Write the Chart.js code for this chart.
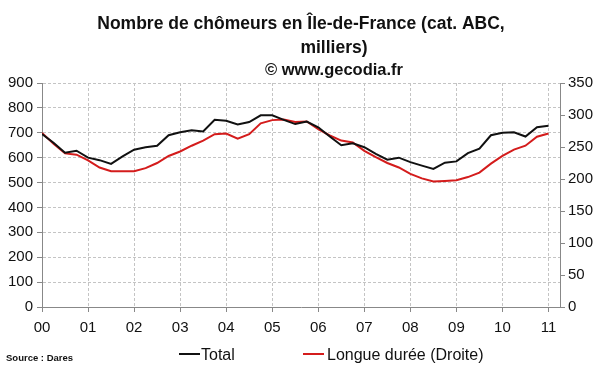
<!DOCTYPE html>
<html lang="fr">
<head>
<meta charset="UTF-8">
<title>Nombre de chômeurs en Île-de-France</title>
<style>
    html, body { margin: 0; padding: 0; background: #fff; }
    #wrap { width: 600px; height: 372px; position: relative; }
</style>
</head>
<body>
<div id="wrap"><canvas id="chart" width="600" height="372"></canvas></div>

<script src="https://cdn.jsdelivr.net/npm/chart.js@4.4.0/dist/chart.umd.min.js"></script>
<script>
// years on the x axis (2000 .. 2011)
const yearLabels = ["00", "01", "02", "03", "04", "05", "06", "07", "08", "09", "10", "11"];

// quarterly readings, 2000 T1 -> 2011 T1 (milliers)
const totalValues = [
    695, 660, 620, 628, 600, 590, 575, 605, 632, 642, 648, 690,
    702, 710, 705, 752, 748, 733, 743, 770, 770, 752, 735, 745,
    722, 685, 650, 658, 642, 615, 592, 600, 582, 568, 555, 580,
    585, 618, 636, 690, 700, 702, 685, 722, 728
];
const longueDureeValues = [
    272, 255, 240, 238, 229, 218, 212, 212, 212, 217, 225, 236,
    243, 252, 260, 270, 271, 263, 270, 287, 292, 293, 289, 290,
    278, 268, 260, 257, 244, 234, 225, 218, 208, 201, 196, 197,
    198, 203, 210, 224, 236, 246, 252, 266, 271
];

const seriesNames = ["Total", "Longue durée (Droite)"];
const seriesColors = ["#111111", "#d41c1c"];

const toPoints = vals => vals.map((v, i) => ({ x: i / 4, y: v }));

const FONT = "'Liberation Sans', Arial, sans-serif";

// title, source and legend are painted on the canvas
const decorations = {
    id: "decorations",
    afterDraw(chart) {
        const ctx = chart.ctx;
        ctx.save();
        ctx.fillStyle = "#111";
        ctx.textAlign = "center";
        ctx.textBaseline = "alphabetic";
        ctx.font = "bold 17.5px " + FONT;
        ctx.fillText("Nombre de chômeurs en Île-de-France (cat. ABC,", 301, 29);
        ctx.fillText("milliers)", 334, 53);
        ctx.font = "bold 16.5px " + FONT;
        ctx.fillText("© www.gecodia.fr", 334, 75);

        ctx.textAlign = "left";
        ctx.font = "bold 9.5px " + FONT;
        ctx.fillText("Source : Dares", 6, 361);

        // legend
        const items = [[179, 201], [303, 327]];
        ctx.font = "16px " + FONT;
        items.forEach(([x0, xt], k) => {
            ctx.strokeStyle = seriesColors[k];
            ctx.lineWidth = 2;
            ctx.beginPath();
            ctx.moveTo(x0, 354);
            ctx.lineTo(x0 + 21, 354);
            ctx.stroke();
            ctx.fillStyle = "#111";
            ctx.fillText(seriesNames[k], xt, 360);
        });
        ctx.restore();
    }
};

new Chart(document.getElementById("chart"), {
    type: "line",
    data: {
        datasets: [{
            label: seriesNames[0],
            data: toPoints(totalValues),
            borderColor: seriesColors[0],
            borderWidth: 2,
            pointRadius: 0,
            tension: 0,
            yAxisID: "y"
        }, {
            label: seriesNames[1],
            data: toPoints(longueDureeValues),
            borderColor: seriesColors[1],
            borderWidth: 2,
            pointRadius: 0,
            tension: 0,
            yAxisID: "y1"
        }]
    },
    options: {
        responsive: false,
        animation: false,
        layout: { padding: { top: 83, left: 0, right: 0, bottom: 0 } },
        plugins: {
            legend: { display: false },
            title: { display: false },
            tooltip: { enabled: false }
        },
        scales: {
            x: {
                type: "linear",
                min: 0,
                max: 11.25,
                afterFit: s => { s.height = 65; },
                ticks: {
                    stepSize: 1,
                    includeBounds: false,
                    autoSkip: false,
                    maxRotation: 0,
                    padding: 7,
                    color: "#111",
                    font: { family: FONT, size: 15 },
                    callback: v => yearLabels[v]
                },
                grid: {
                    color: "#c4c4c4",
                    tickColor: "#888",
                    tickLength: 5,
                    tickBorderDash: []
                },
                border: { color: "#888", width: 1, dash: [3, 2] }
            },
            y: {
                position: "left",
                min: 0,
                max: 900,
                afterFit: s => { s.width = 42; },
                ticks: {
                    stepSize: 100,
                    padding: 4,
                    color: "#111",
                    font: { family: FONT, size: 15 }
                },
                grid: {
                    color: "#c4c4c4",
                    tickColor: "#888",
                    tickLength: 5,
                    tickBorderDash: []
                },
                border: { color: "#888", width: 1, dash: [3, 2] }
            },
            y1: {
                position: "right",
                min: 0,
                max: 350,
                afterFit: s => { s.width = 40; },
                ticks: {
                    stepSize: 50,
                    padding: 3,
                    color: "#111",
                    font: { family: FONT, size: 15 }
                },
                grid: {
                    drawOnChartArea: false,
                    tickColor: "#888",
                    tickLength: 5
                },
                border: { color: "#888", width: 1 }
            }
        }
    },
    plugins: [decorations]
});
</script>
</body>
</html>
